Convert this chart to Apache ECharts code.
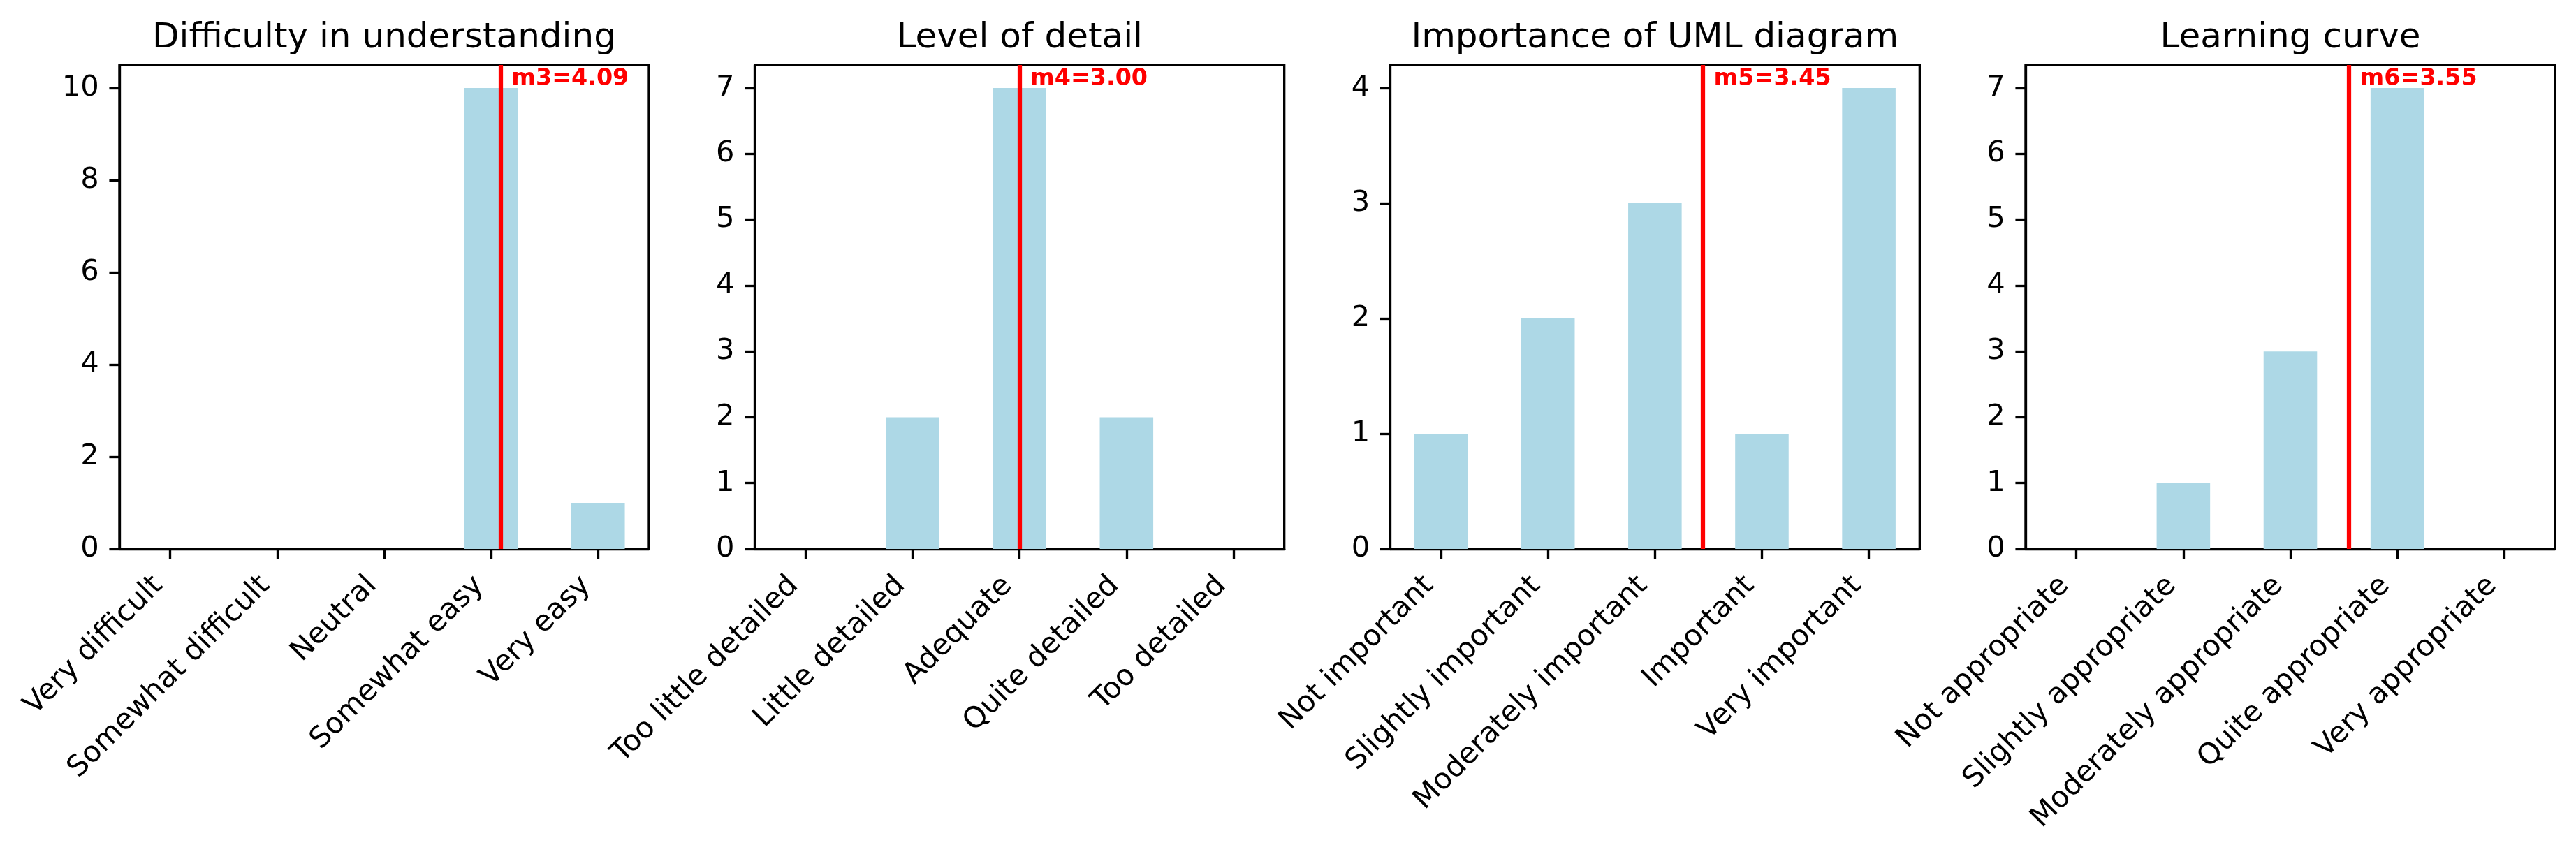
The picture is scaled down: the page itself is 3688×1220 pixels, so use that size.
<!DOCTYPE html>
<html>
<head>
<meta charset="utf-8">
<script src="https://cdn.jsdelivr.net/npm/echarts@6/dist/echarts.min.js"></script>
<style>
html,body{margin:0;padding:0;background:#fff;}
#chart{width:3688px;height:1220px;}
</style>
</head>
<body>
<div id="chart"></div>
<script>
// ---- data ----
const titles = ["Difficulty in understanding", "Level of detail", "Importance of UML diagram", "Learning curve"];
const categories1 = ["Very difficult", "Somewhat difficult", "Neutral", "Somewhat easy", "Very easy"];
const categories2 = ["Too little detailed", "Little detailed", "Adequate", "Quite detailed", "Too detailed"];
const categories3 = ["Not important", "Slightly important", "Moderately important", "Important", "Very important"];
const categories4 = ["Not appropriate", "Slightly appropriate", "Moderately appropriate", "Quite appropriate", "Very appropriate"];
const counts1 = [0, 0, 0, 10, 1];
const counts2 = [0, 2, 7, 2, 0];
const counts3 = [1, 2, 3, 1, 4];
const counts4 = [0, 1, 3, 7, 0];
const meanNames = ["m3", "m4", "m5", "m6"];
const means = [4.09, 3.00, 3.45, 3.55];
const yTicks1 = [0, 2, 4, 6, 8, 10];
const yTicks2 = [0, 1, 2, 3, 4, 5, 6, 7];
const yTicks3 = [0, 1, 2, 3, 4];
const yTicks4 = [0, 1, 2, 3, 4, 5, 6, 7];
const xPositions = [1, 2, 3, 4, 5];

const allCats = [categories1, categories2, categories3, categories4];
const allCounts = [counts1, counts2, counts3, counts4];
const allYTicks = [yTicks1, yTicks2, yTicks3, yTicks4];

// ---- layout / style ----
const PX = 300 / 72; // points -> pixels at 300 dpi
const GW = 758, GH = 693, GTOP = 93;
const LEFT0 = 171, STEP = 909.67;
const XMIN = 0.525, XMAX = 5.475;
const FONT = "DejaVu Sans";
const tickFont = 10 * PX, titleFont = 12 * PX, noteFont = 8 * PX;
const spineW = 0.8 * PX, tickLen = 3.5 * PX, tickPad = 3.5 * PX;
const barW = 0.5 * GW / (XMAX - XMIN);

const grids = [], xAxes = [], yAxes = [], series = [], titleOpts = [];
for (let i = 0; i < 4; i++) {
  const left = LEFT0 + i * STEP;
  const cats = allCats[i];
  const counts = allCounts[i];
  const yt = allYTicks[i];
  const dataMax = Math.max(...counts);
  const ymax = dataMax * 1.05;
  grids.push({left: left, top: GTOP, width: GW, height: GH, show: true,
    borderColor: '#000', borderWidth: spineW, backgroundColor: 'transparent', containLabel: false});
  titleOpts.push({text: titles[i], left: left + GW / 2, top: 30, textAlign: 'center', padding: 0,
    textStyle: {fontFamily: FONT, fontSize: titleFont, fontWeight: 'normal', color: '#000'}});
  xAxes.push({type: 'value', gridIndex: i, min: XMIN, max: XMAX,
    splitLine: {show: false},
    axisLine: {show: true, onZero: false, lineStyle: {color: '#000', width: spineW}},
    axisTick: {show: true, customValues: xPositions, length: tickLen, lineStyle: {color: '#000', width: spineW}},
    axisLabel: {show: true, customValues: xPositions, rotate: 45, margin: tickLen + tickPad,
      padding: [0, 24, 0, 0],
      fontFamily: FONT, fontSize: tickFont, color: '#000',
      formatter: (v) => cats[Math.round(v) - 1] || ''}
  });
  yAxes.push({type: 'value', gridIndex: i, min: 0, max: ymax,
    splitLine: {show: false},
    axisLine: {show: true, lineStyle: {color: '#000', width: spineW}},
    axisTick: {show: true, customValues: yt, length: tickLen, lineStyle: {color: '#000', width: spineW}},
    axisLabel: {show: true, customValues: yt, margin: tickLen + tickPad,
      fontFamily: FONT, fontSize: tickFont, color: '#000'}
  });
  series.push({type: 'bar', xAxisIndex: i, yAxisIndex: i,
    data: xPositions.map((x, k) => [x, counts[k]]),
    barWidth: barW, itemStyle: {color: '#ADD8E6'}, silent: true, z: 2,
    markLine: {symbol: 'none', silent: true, animation: false,
      label: {show: false},
      lineStyle: {color: '#FF0000', width: 1.5 * PX, type: 'solid', opacity: 1},
      data: [{xAxis: means[i]}]}
  });
  series.push({type: 'scatter', xAxisIndex: i, yAxisIndex: i, symbolSize: 0, z: 5, silent: true,
    itemStyle: {opacity: 1, color: '#FF0000'},
    data: [[means[i] + 0.1, dataMax]],
    label: {show: true, position: 'right', distance: 0, offset: [0, -13], align: 'left', verticalAlign: 'middle',
      fontFamily: FONT, fontSize: noteFont, fontWeight: 'bold', color: '#FF0000', opacity: 1,
      formatter: meanNames[i] + '=' + means[i].toFixed(2)}
  });
}

const chart = echarts.init(document.getElementById('chart'), null, {renderer: 'canvas'});
chart.setOption({
  animation: false,
  backgroundColor: '#fff',
  title: titleOpts,
  grid: grids,
  xAxis: xAxes,
  yAxis: yAxes,
  series: series
});
</script>
</body>
</html>
